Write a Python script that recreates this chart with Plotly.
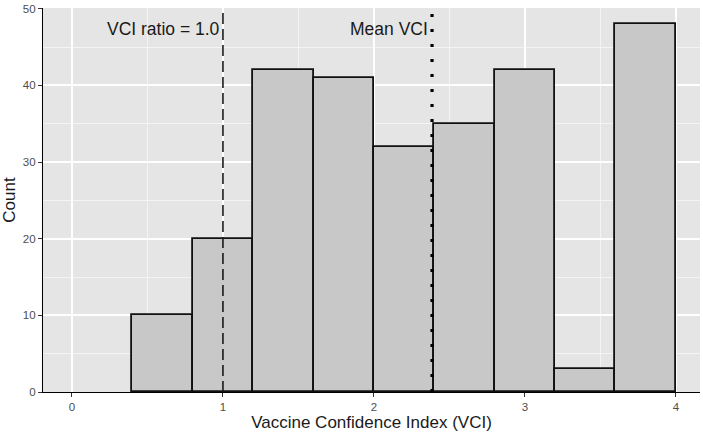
import plotly.graph_objects as go

bin_centers = [0.6, 1.0, 1.4, 1.8, 2.2, 2.6, 3.0, 3.4, 3.8]
counts = [10, 20, 42, 41, 32, 35, 42, 3, 48]
bin_width = 0.4
ratio_line = 1.0
mean_vci = 2.385
x_ticks = [0, 1, 2, 3, 4]
y_ticks = [0, 10, 20, 30, 40, 50]

fig = go.Figure()
fig.add_trace(go.Bar(
    x=bin_centers, y=counts, width=[bin_width] * len(counts),
    marker=dict(color="#c8c8c8", line=dict(color="#111111", width=1.8)),
    showlegend=False, hoverinfo="x+y",
))

fig.add_shape(type="line", xref="x", yref="paper", x0=ratio_line, x1=ratio_line, y0=0, y1=1,
              line=dict(color="#1a1a1a", width=1.6, dash="11px,5px"))
fig.add_shape(type="line", xref="x", yref="paper", x0=mean_vci, x1=mean_vci, y0=0, y1=1,
              line=dict(color="#000000", width=3.2, dash="3px,12px"))

fig.add_annotation(x=ratio_line, y=47.4, xref="x", yref="y", text="VCI ratio = 1.0",
                   showarrow=False, xanchor="right", yanchor="middle", xshift=-1,
                   font=dict(family="Liberation Sans, Arial, sans-serif", size=17.5, color="#1a1a1a"))
fig.add_annotation(x=mean_vci, y=47.4, xref="x", yref="y", text="Mean VCI",
                   showarrow=False, xanchor="right", yanchor="middle", xshift=-2,
                   font=dict(family="Liberation Sans, Arial, sans-serif", size=17.5, color="#1a1a1a"))

fig.update_layout(
    width=703, height=433,
    margin=dict(l=43, r=3, t=6, b=41),
    plot_bgcolor="#e5e5e5", paper_bgcolor="white",
    font=dict(family="Liberation Sans, Arial, sans-serif", color="#1a1a1a"),
    bargap=0,
)
fig.update_xaxes(
    range=[-0.192, 4.16], tickvals=x_ticks, ticktext=[str(t) for t in x_ticks],
    showgrid=True, gridcolor="white", gridwidth=1.5,
    minor=dict(dtick=0.5, tick0=0, showgrid=True, gridcolor="#f4f4f4", gridwidth=0.8),
    showline=True, linecolor="black", linewidth=1.3,
    ticks="outside", ticklen=4, tickcolor="#333333", tickwidth=1,
    tickfont=dict(size=11.5, color="#4d4d4d"),
    title=dict(text="Vaccine Confidence Index (VCI)", font=dict(size=17, color="#1a1a1a"), standoff=2),
    zeroline=False,
)
fig.update_yaxes(
    range=[0, 50.1], tickvals=y_ticks,
    showgrid=True, gridcolor="white", gridwidth=1.5,
    minor=dict(dtick=5, tick0=0, showgrid=True, gridcolor="#f4f4f4", gridwidth=0.8),
    showline=True, linecolor="black", linewidth=1.3,
    ticks="outside", ticklen=4, tickcolor="#333333", tickwidth=1,
    tickfont=dict(size=11.5, color="#4d4d4d"),
    title=dict(text="Count", font=dict(size=17, color="#1a1a1a"), standoff=4),
    zeroline=False,
)

fig.write_html("out.html", config={"displayModeBar": False},
               post_script="document.body.style.margin='0';document.body.style.padding='0';")
